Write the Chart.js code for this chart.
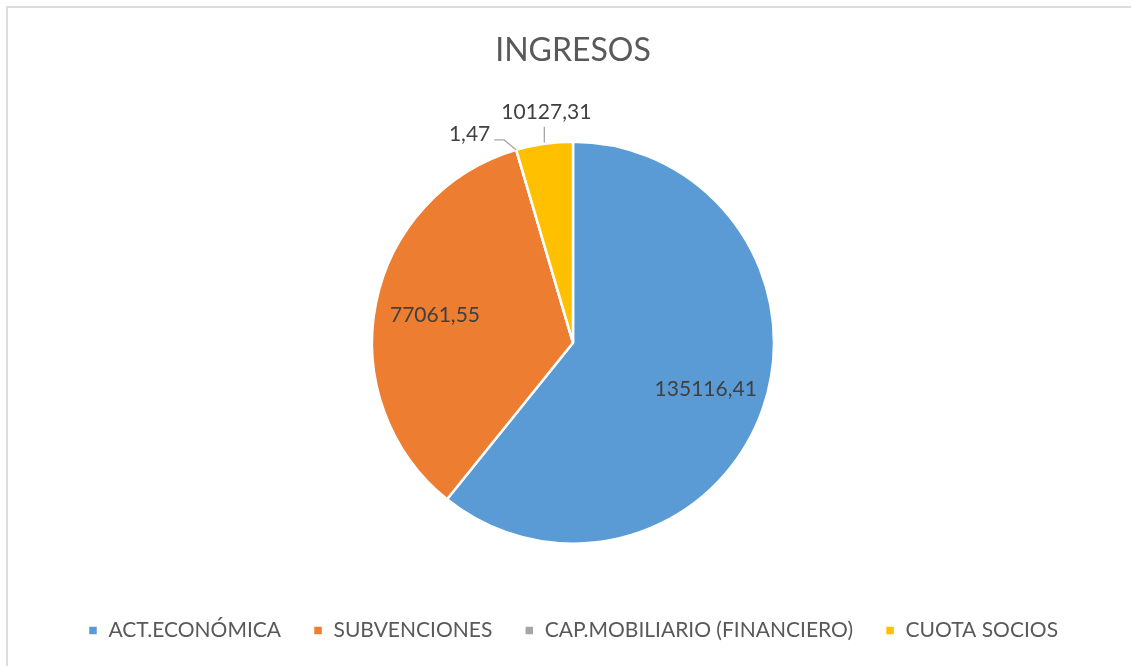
<!DOCTYPE html>
<html>
<head>
<meta charset="utf-8">
<script src="https://cdn.jsdelivr.net/npm/chart.js@4.4.1/dist/chart.umd.min.js"></script>
<style>
  html, body { margin: 0; padding: 0; background: #fff; overflow: hidden; }
  #frame {
    position: absolute; left: 6px; top: 6px;
    width: 1140px; height: 680px;
    border: 2px solid #dcdcdc; box-sizing: border-box;
  }
  #wrap { position: absolute; left: 6px; top: 0; width: 1134px; height: 666px; }
</style>
</head>
<body>
<div id="frame"></div>
<div id="wrap"><canvas id="chart"></canvas></div>
<script>
const categories = ['ACT.ECONÓMICA', 'SUBVENCIONES', 'CAP.MOBILIARIO (FINANCIERO)', 'CUOTA SOCIOS'];
const values = [135116.41, 77061.55, 1.47, 10127.31];
const valueLabels = ['135116,41', '77061,55', '1,47', '10127,31'];
const colors = ['#5B9BD5', '#ED7D31', '#A5A5A5', '#FFC000'];

const FONT = "Lato, 'Open Sans', sans-serif";

// labels: inside for big slices, outside with leader line for small ones
const sliceLabels = {
  id: 'sliceLabels',
  afterDatasetsDraw(chart) {
    const ctx = chart.ctx;
    const arcs = chart.getDatasetMeta(0).data;
    ctx.save();
    ctx.font = '21px ' + FONT;
    ctx.fillStyle = '#404040';
    ctx.strokeStyle = '#a6a6a6';
    ctx.lineWidth = 1.3;
    ctx.textBaseline = 'middle';
    arcs.forEach((arc, i) => {
      const mid = (arc.startAngle + arc.endAngle) / 2;
      const r = arc.outerRadius;
      const share = (arc.endAngle - arc.startAngle) / (Math.PI * 2);
      if (share > 0.1) {
        ctx.textAlign = 'center';
        ctx.fillText(valueLabels[i], arc.x + Math.cos(mid) * r * 0.7, arc.y + Math.sin(mid) * r * 0.7);
        return;
      }
      const ex = arc.x + Math.cos(mid) * r;
      const ey = arc.y + Math.sin(mid) * r;
      ctx.beginPath();
      if (share > 0.01) {
        ctx.moveTo(ex, ey - 1);
        ctx.lineTo(ex, ey - 17);
        ctx.stroke();
        ctx.textAlign = 'center';
        ctx.fillText(valueLabels[i], ex + 2, ey - 32);
      } else {
        ctx.moveTo(ex, ey);
        ctx.lineTo(ex - 12, ey - 10);
        ctx.lineTo(ex - 22, ey - 10);
        ctx.stroke();
        ctx.textAlign = 'right';
        ctx.fillText(valueLabels[i], ex - 26, ey - 16);
      }
    });
    ctx.restore();
  }
};

new Chart(document.getElementById('chart'), {
  type: 'pie',
  data: {
    labels: categories,
    datasets: [{
      data: values,
      backgroundColor: colors,
      borderColor: '#ffffff',
      borderWidth: 2.5,
      radius: 201,
    }],
  },
  options: {
    responsive: true,
    maintainAspectRatio: false,
    animation: false,
    layout: { padding: { bottom: 15 } },
    plugins: {
      title: {
        display: true,
        text: 'INGRESOS',
        color: '#595959',
        font: { family: FONT, size: 32, weight: 'normal' },
        padding: { top: 31, bottom: 28 },
      },
      legend: {
        position: 'bottom',
        labels: {
          boxWidth: 10,
          boxHeight: 10,
          padding: 32,
          color: '#595959',
          font: { family: FONT, size: 21 },
        },
      },
      tooltip: { enabled: false },
    },
  },
  plugins: [sliceLabels],
});
</script>
</body>
</html>
